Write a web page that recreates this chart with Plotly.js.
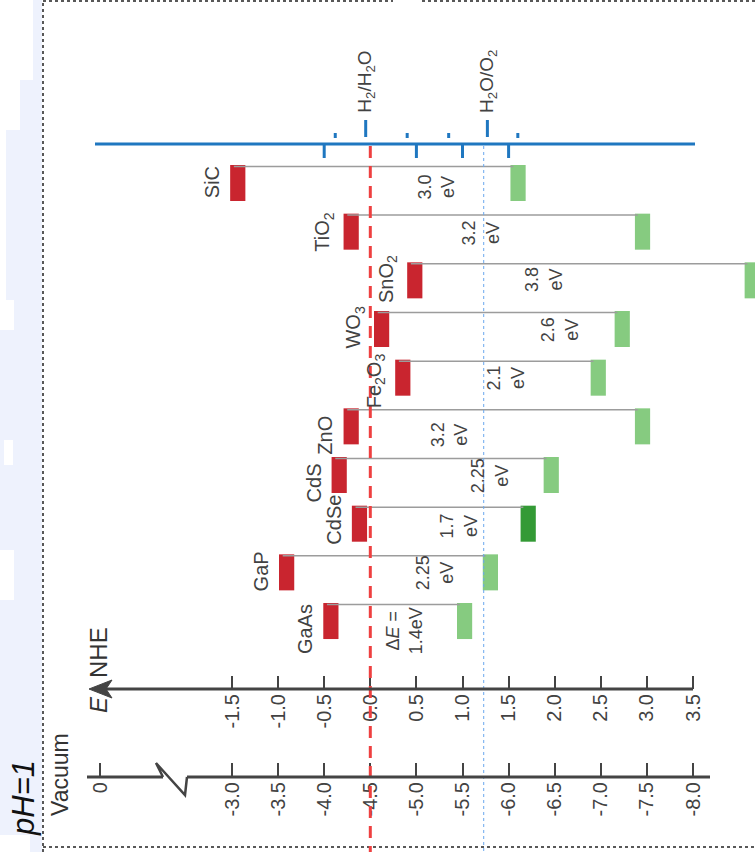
<!DOCTYPE html>
<html><head><meta charset="utf-8">
<script src="https://cdn.plot.ly/plotly-3.0.1.min.js"></script>
<style>html,body{margin:0;padding:0;background:#fff;}#chart{width:755px;height:852px;}</style>
</head><body><div id="chart"></div>
<script>
// ---- data ----
const materials = ['SiC','TiO<sub>2</sub>','SnO<sub>2</sub>','WO<sub>3</sub>','Fe<sub>2</sub>O<sub>3</sub>','ZnO','CdS','CdSe','GaP','GaAs'];
const conductionBand = [-1.52,-0.29,0.40,0.04,0.27,-0.29,-0.42,-0.20,-0.99,-0.51];
const valenceBand   = [1.52,2.87,4.06,2.65,2.39,2.87,1.88,1.63,1.22,0.94];
const gapText = ['3.0<br>eV','3.2<br>eV','3.8<br>eV','2.6<br>eV','2.1<br>eV','3.2<br>eV','2.25<br>eV','1.7<br>eV','2.25<br>eV','Δ<i>E</i> =<br>1.4eV'];
const nheTicks = [-1.5,-1.0,-0.5,0.0,0.5,1.0,1.5,2.0,2.5,3.0,3.5];
const nheTickText = ['-1.5','-1.0','-0.5','0.0','0.5','1.0','1.5','2.0','2.5','3.0','3.5'];
const vacuumTicks = [-3.0,-3.5,-4.0,-4.5,-5.0,-5.5,-6.0,-6.5,-7.0,-7.5,-8.0];
const vacuumTickText = ['-3.0','-3.5','-4.0','-4.5','-5.0','-5.5','-6.0','-6.5','-7.0','-7.5','-8.0'];
const redoxPotentials = [0, 1.23];
const redoxLabels = ['H<sub>2</sub>/H<sub>2</sub>O','H<sub>2</sub>O/O<sub>2</sub>'];
const scaleTicksBelow = [-0.5,0.5,1.0,1.5];
const scaleTicksAbove = [-0.38,0.40,0.85,1.60];
const redoxTickPos = [-0.05,1.27];

// ---- layout helpers (pixel -> axis units) ----
const W=755,H=852;
const px2E = p => (p-370.3)/92.2;
const py = p => 1 - p/H;
const rowPx0 = 183, rowStep = 48.67;
const px2row = p => (p-rowPx0)/rowStep;
const n = materials.length;
const rows = materials.map((_,i)=>i);
const barW = 0.165, barH = 0.74;
const vbColors = materials.map((m,i)=> i===7 ? '#339a35' : '#86cb80');
const gapLabelX = [0.72,1.20,1.88,2.06,1.47,0.86,1.30,0.96,0.70,0.37];
const gapLabelDy = [0.08,0.02,-0.02,0.02,0,0.17,0.02,0.04,0,0.2];
const matLabelDy = [-0.02,0.02,-0.02,-0.04,0.06,0.18,0.16,-0.08,-0.02,0.16];
const vacZeroE = px2E(100);
const vacuumPos = vacuumTicks.map(v => -v - 4.5);

const txt = '#424242';
const fam = 'Liberation Sans, Arial, Helvetica, sans-serif';

const lineX=[], lineY=[];
rows.forEach(i=>{ lineX.push(conductionBand[i]+0.04, valenceBand[i]+0.03, null); lineY.push(i-0.34,i-0.34,null); });

const traces = [
  {type:'scatter',mode:'lines',x:lineX,y:lineY,line:{color:'#9c9c9c',width:1.5},hoverinfo:'skip',showlegend:false},
  {type:'bar',orientation:'h',y:rows,x:rows.map(()=>barW),base:conductionBand,width:barH,marker:{color:'#c9252f'},showlegend:false},
  {type:'bar',orientation:'h',y:rows,x:rows.map(()=>barW),base:valenceBand,width:barH,marker:{color:vbColors},showlegend:false},
  {type:'scatter',x:[],y:[],xaxis:'x2',yaxis:'y',showlegend:false}
];

const shapes = [];
// left light-blue background
const bgBlue = '#eef2fd';
shapes.push({type:'rect',xref:'paper',yref:'paper',x0:0,x1:42/W,y0:0,y1:1,fillcolor:bgBlue,line:{width:0},layer:'below'});
const whitePatches = [[0,33,0,80],[0,20,80,130],[0,6,130,300],[0,14,300,330],[4,13,440,465],[0,14,550,600],[0,30,835,852]];
whitePatches.forEach(r=>shapes.push({type:'rect',xref:'paper',yref:'paper',x0:r[0]/W,x1:r[1]/W,y0:py(r[3]),y1:py(r[2]),fillcolor:'#ffffff',line:{width:0},layer:'below'}));
// dotted border
const dot = {color:'#222',width:1.5,dash:'dot'};
shapes.push({type:'line',xref:'paper',yref:'paper',x0:43/W,x1:43/W,y0:0,y1:1,line:dot});
shapes.push({type:'line',xref:'paper',yref:'paper',x0:43/W,x1:393/W,y0:py(1),y1:py(1),line:dot});
shapes.push({type:'line',xref:'paper',yref:'paper',x0:422/W,x1:1,y0:py(1),y1:py(1),line:dot});
shapes.push({type:'line',xref:'paper',yref:'paper',x0:43/W,x1:1,y0:py(847),y1:py(847),line:dot});
// redox lines
shapes.push({type:'line',xref:'x',yref:'paper',x0:redoxPotentials[0],x1:redoxPotentials[0],y0:py(146),y1:0,line:{color:'#ee4040',width:3,dash:'12px,8px'}});
shapes.push({type:'line',xref:'x',yref:'paper',x0:redoxPotentials[1],x1:redoxPotentials[1],y0:py(146),y1:0,line:{color:'#6aa8ee',width:1,dash:'dot'}});
// top blue scale
const blue='#1f77c0';
shapes.push({type:'line',xref:'x',yref:'paper',x0:px2E(95),x1:px2E(695),y0:py(144),y1:py(144),line:{color:blue,width:3}});
scaleTicksBelow.forEach(v=>shapes.push({type:'line',xref:'x',yref:'paper',x0:v,x1:v,y0:py(144),y1:py(158),line:{color:blue,width:3}}));
scaleTicksAbove.forEach(v=>shapes.push({type:'line',xref:'x',yref:'paper',x0:v,x1:v,y0:py(133),y1:py(138),line:{color:blue,width:3}}));
redoxTickPos.forEach(v=>shapes.push({type:'line',xref:'x',yref:'paper',x0:v,x1:v,y0:py(120),y1:py(137),line:{color:blue,width:3}}));
// bottom axes lines
const axc='#444';
shapes.push({type:'line',xref:'x',yref:'paper',x0:px2E(100),x1:px2E(693),y0:py(689),y1:py(689),line:{color:axc,width:3}});
shapes.push({type:'path',xref:'x',yref:'paper',path:`M${px2E(89)},${py(689)} L${px2E(112)},${py(680)} L${px2E(106)},${py(689)} L${px2E(112)},${py(698)} Z`,fillcolor:axc,line:{color:axc,width:1}});
shapes.push({type:'line',xref:'x',yref:'paper',x0:px2E(87),x1:px2E(163),y0:py(777),y1:py(777),line:{color:axc,width:3}});
shapes.push({type:'path',xref:'x',yref:'paper',path:`M${px2E(163)},${py(777)} L${px2E(156)},${py(763)} L${px2E(185)},${py(795)} L${px2E(187)},${py(777)}`,line:{color:axc,width:2.5}});
shapes.push({type:'line',xref:'x',yref:'paper',x0:px2E(187),x1:px2E(710),y0:py(777),y1:py(777),line:{color:axc,width:3}});

const annotations = [];
rows.forEach(i=>{
  annotations.push({x:conductionBand[i],y:i+matLabelDy[i],xref:'x',yref:'y',text:materials[i],showarrow:false,textangle:-90,xanchor:'right',yanchor:'middle',xshift:-5,font:{family:fam,size:20,color:txt}});
  annotations.push({x:gapLabelX[i],y:i+gapLabelDy[i],xref:'x',yref:'y',text:gapText[i],showarrow:false,textangle:-90,xanchor:'center',yanchor:'middle',align:'center',font:{family:fam,size:18,color:txt}});
});
redoxTickPos.forEach((v,k)=>annotations.push({x:v,y:py(115),xref:'x',yref:'paper',text:redoxLabels[k],showarrow:false,textangle:-90,xanchor:'center',yanchor:'bottom',font:{family:fam,size:19,color:txt}}));
annotations.push({x:px2E(98),y:py(705),xref:'x',yref:'paper',text:'<i>E</i>',showarrow:false,textangle:-90,xanchor:'center',yanchor:'middle',font:{family:fam,size:24,color:'#333'}});
annotations.push({x:px2E(98),y:py(653),xref:'x',yref:'paper',text:'NHE',showarrow:false,textangle:-90,xanchor:'center',yanchor:'middle',font:{family:fam,size:24,color:'#333'}});
annotations.push({x:px2E(60),y:py(775),xref:'x',yref:'paper',text:'Vacuum',showarrow:false,textangle:-90,xanchor:'center',yanchor:'middle',font:{family:fam,size:23,color:'#333'}});
annotations.push({x:px2E(23),y:py(798),xref:'x',yref:'paper',text:'<i>pH=1</i>',showarrow:false,textangle:-90,xanchor:'center',yanchor:'middle',font:{family:fam,size:31,color:'#111'}});

const layout = {
  width:W,height:H,margin:{l:0,r:0,t:0,b:0},paper_bgcolor:'#fff',plot_bgcolor:'rgba(0,0,0,0)',
  showlegend:false,barmode:'overlay',
  xaxis:{range:[px2E(0),px2E(W)],anchor:'free',position:py(689),tickmode:'array',tickvals:nheTicks,ticktext:nheTickText,
    ticks:'inside',ticklen:13,tickwidth:2,tickcolor:axc,showline:false,showgrid:false,zeroline:false,tickangle:-90,
    tickfont:{family:fam,size:20,color:txt},fixedrange:true},
  xaxis2:{range:[px2E(0),px2E(W)],overlaying:'x',anchor:'free',position:py(777),side:'bottom',tickmode:'array',
    tickvals:[vacZeroE].concat(vacuumPos),ticktext:['0'].concat(vacuumTickText),
    ticks:'inside',ticklen:14,tickwidth:2,tickcolor:axc,showline:false,showgrid:false,zeroline:false,tickangle:-90,
    tickfont:{family:fam,size:20,color:txt},fixedrange:true},
  yaxis:{range:[px2row(H),px2row(0)],visible:false,fixedrange:true},
  shapes:shapes,annotations:annotations
};
Plotly.newPlot('chart',traces,layout,{staticPlot:true,displayModeBar:false});
</script></body></html>
